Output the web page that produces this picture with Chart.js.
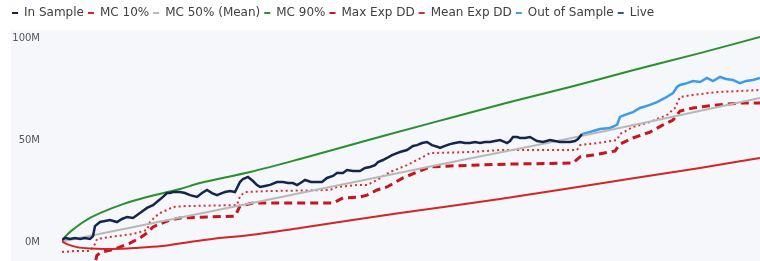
<!DOCTYPE html>
<html>
<head>
<meta charset="utf-8">
<script src="https://cdn.jsdelivr.net/npm/chart.js@4.4.1/dist/chart.umd.min.js"></script>
<style>
  html, body { margin: 0; padding: 0; background: #ffffff; }
  canvas { display: block; }
</style>
</head>
<body>
<canvas id="equity" width="760" height="261"></canvas>
<script>
// values in millions, x = trading day
const inSampleDays = [0, 3, 8, 13, 18, 23, 28, 31, 33, 38, 43, 48, 55, 60, 65, 71, 78, 85, 91, 96, 101, 105, 108, 111, 118, 123, 128, 135, 140, 145, 150, 155, 160, 163, 168, 173, 178, 181, 186, 191, 195, 198, 203, 208, 215, 221, 226, 231, 235, 240, 243, 249, 255, 260, 265, 271, 275, 281, 285, 291, 298, 303, 308, 313, 316, 321, 325, 330, 335, 338, 345, 351, 355, 360, 365, 370, 376, 378, 383, 388, 393, 398, 403, 408, 413, 418, 423, 428, 433, 438, 443, 445, 448, 451, 455, 458, 463, 468, 475, 481, 488, 493, 498, 503, 508, 513, 516, 520];
const inSampleValues = [1.0, 2.0, 1.5, 2.0, 1.5, 2.0, 1.5, 2.9, 7.8, 9.8, 10.3, 10.8, 9.8, 11.3, 12.3, 11.8, 14.2, 16.7, 18.1, 20.1, 22.1, 24.0, 24.0, 24.5, 24.5, 24.0, 23.0, 22.1, 24.0, 25.5, 24.0, 23.0, 24.0, 24.5, 25.0, 24.5, 29.4, 30.9, 31.9, 29.9, 27.9, 27.0, 27.5, 28.0, 29.4, 29.4, 28.9, 28.9, 27.9, 29.4, 30.4, 29.4, 29.4, 29.4, 31.4, 32.4, 33.8, 33.8, 35.3, 34.8, 34.8, 36.3, 36.8, 37.7, 39.2, 40.2, 41.2, 42.6, 43.6, 44.1, 45.1, 47.1, 47.5, 48.5, 49.0, 47.5, 46.6, 46.1, 47.1, 48.0, 48.5, 49.0, 48.5, 48.5, 49.0, 48.5, 49.0, 49.0, 49.5, 50.0, 49.0, 48.5, 49.5, 51.5, 51.5, 51.0, 51.0, 51.5, 49.5, 49.0, 50.0, 49.5, 49.0, 49.0, 49.0, 49.5, 50.5, 52.9];

const outSampleDays = [520, 528, 538, 548, 555, 558, 563, 571, 578, 588, 595, 603, 611, 615, 618, 625, 631, 638, 645, 651, 658, 664, 671, 678, 684, 691, 698];
const outSampleValues = [52.9, 53.9, 55.4, 55.9, 57.4, 61.3, 62.3, 63.7, 65.7, 67.2, 68.6, 70.6, 73.0, 76.0, 77.0, 77.9, 78.9, 78.4, 80.4, 78.9, 80.9, 79.9, 79.4, 77.9, 78.9, 79.4, 80.4];

const mc90Days = [0, 3, 13, 28, 38, 61, 85, 118, 138, 188, 238, 321, 388, 448, 508, 568, 638, 698];
const mc90Values = [0.3, 2.5, 6.9, 11.8, 14.2, 18.6, 22.1, 26.0, 28.9, 34.3, 40.7, 52.0, 60.8, 68.6, 76.0, 83.8, 92.6, 100.5];

const mc10Days = [0, 5, 15, 30, 50, 75, 100, 125, 150, 188, 238, 338, 438, 538, 638, 698];
const mc10Values = [0.3, -1.0, -2.5, -3.2, -3.4, -2.9, -2.0, -0.2, 1.5, 3.4, 6.9, 14.2, 21.1, 28.7, 36.3, 41.2];

const mc50Days = [0, 100, 200, 300, 400, 500, 600, 698];
const mc50Values = [0.3, 10.2, 20.1, 30.2, 40.2, 50.0, 60.3, 70.6];

const meanDdDays = [0, 13, 28, 33, 35, 48, 71, 85, 88, 93, 98, 105, 111, 123, 175, 178, 183, 208, 268, 275, 295, 305, 315, 328, 345, 361, 368, 408, 438, 515, 518, 535, 555, 558, 571, 588, 605, 613, 618, 631, 655, 698];
const meanDdValues = [-4.9, -4.4, -4.4, -1.0, 1.5, 2.5, 3.9, 5.9, 9.8, 12.3, 14.2, 15.7, 17.2, 17.6, 18.1, 22.5, 24.5, 25.0, 25.5, 27.0, 27.9, 27.9, 30.4, 34.3, 37.7, 41.7, 43.6, 44.1, 45.1, 45.1, 47.5, 48.5, 50.0, 52.9, 56.4, 58.8, 62.3, 65.7, 71.1, 72.1, 73.5, 74.5];

const maxDdDays = [0, 32, 35, 40, 53, 68, 78, 85, 91, 105, 118, 145, 173, 178, 191, 271, 281, 298, 305, 315, 325, 341, 355, 368, 388, 448, 511, 518, 531, 553, 558, 571, 588, 601, 611, 618, 631, 655, 678, 698];
const maxDdValues = [-14.0, -12.0, -6.5, -4.9, -3.4, -0.5, 2.0, 4.4, 7.4, 10.3, 11.8, 12.3, 12.7, 17.6, 19.1, 19.1, 21.6, 22.1, 23.0, 25.5, 27.0, 31.4, 34.3, 36.8, 37.3, 38.2, 38.7, 41.7, 42.6, 44.6, 48.0, 51.0, 53.9, 57.4, 59.8, 64.2, 65.7, 67.2, 68.1, 68.1];

const liveDays = [];
const liveValues = [];

const yTicks = [0, 50, 100];

function pairs(days, values) {
    return days.map(function (d, i) { return { x: d, y: values[i] }; });
}

function line(label, days, values, color, extra) {
    return Object.assign({
        label: label,
        data: pairs(days, values),
        borderColor: color,
        backgroundColor: color,
        borderWidth: 2,
        pointRadius: 0,
        pointStyle: 'line',
        fill: false,
        tension: 0
    }, extra || {});
}

const datasets = [
    line("In Sample", inSampleDays, inSampleValues, "#15264d", { borderWidth: 2.5 }),
    line("MC 10%", mc10Days, mc10Values, "#d42424", { cubicInterpolationMode: 'monotone' }),
    line("MC 50% (Mean)", mc50Days, mc50Values, "#b8b8b8", { cubicInterpolationMode: 'monotone' }),
    line("MC 90%", mc90Days, mc90Values, "#2a8f2f", { cubicInterpolationMode: 'monotone' }),
    line("Max Exp DD", maxDdDays, maxDdValues, "#c8151d", { borderWidth: 3, borderDash: [8, 5] }),
    line("Mean Exp DD", meanDdDays, meanDdValues, "#d23232", { borderDash: [2, 3] }),
    line("Out of Sample", outSampleDays, outSampleValues, "#3b9cec", { borderWidth: 2.5 }),
    line("Live", liveDays, liveValues, "#2e5c8a")
];

const panelBackground = {
    id: 'panelBackground',
    beforeDraw(chart) {
        const ctx = chart.ctx;
        ctx.save();
        ctx.fillStyle = '#ffffff';
        ctx.fillRect(0, 0, chart.width, chart.height);
        ctx.fillStyle = '#f5f7fb';
        ctx.fillRect(11, 30, chart.width - 11, chart.height - 30);
        ctx.restore();
    }
};

const legendSpacing = {
    id: 'legendSpacing',
    beforeInit(chart) {
        const fit = chart.legend.fit;
        chart.legend.fit = function () {
            fit.bind(chart.legend)();
            this.height = 28;
        };
    },
    afterLayout(chart) {
        chart.legend.left = 8;
        chart.legend.top = 3;
    }
};

const equityChart = new Chart("equity", {
    type: "line",
    data: { datasets: datasets },
    options: {
        responsive: false,
        animation: false,
        layout: { padding: 0 },
        plugins: {
            tooltip: { enabled: false },
            legend: {
                position: 'top',
                align: 'start',
                labels: {
                    usePointStyle: true,
                    pointStyleWidth: 6,
                    padding: 4,
                    color: '#404040',
                    font: { family: 'DejaVu Sans', size: 12 },
                    generateLabels(chart) {
                        const items = Chart.defaults.plugins.legend.labels.generateLabels(chart);
                        items.forEach(function (it) {
                            it.lineDash = [];
                            it.lineWidth = 2;
                        });
                        return items;
                    }
                }
            }
        },
        scales: {
            x: {
                type: 'linear',
                display: false,
                min: 0,
                max: 698
            },
            y: {
                min: -9.3,
                max: 104.9,
                grid: { display: false, drawTicks: false, tickLength: 0 },
                border: { display: false },
                afterFit(scale) {
                    scale.width = 62;
                    scale.paddingTop = 0;
                    scale.paddingBottom = 0;
                },
                afterBuildTicks(scale) {
                    scale.ticks = yTicks.map(function (v) { return { value: v }; });
                },
                ticks: {
                    padding: 22,
                    color: '#555555',
                    font: { family: 'DejaVu Sans', size: 10 },
                    callback: function (v) { return v + 'M'; }
                }
            }
        }
    },
    plugins: [panelBackground, legendSpacing]
});
</script>
</body>
</html>
